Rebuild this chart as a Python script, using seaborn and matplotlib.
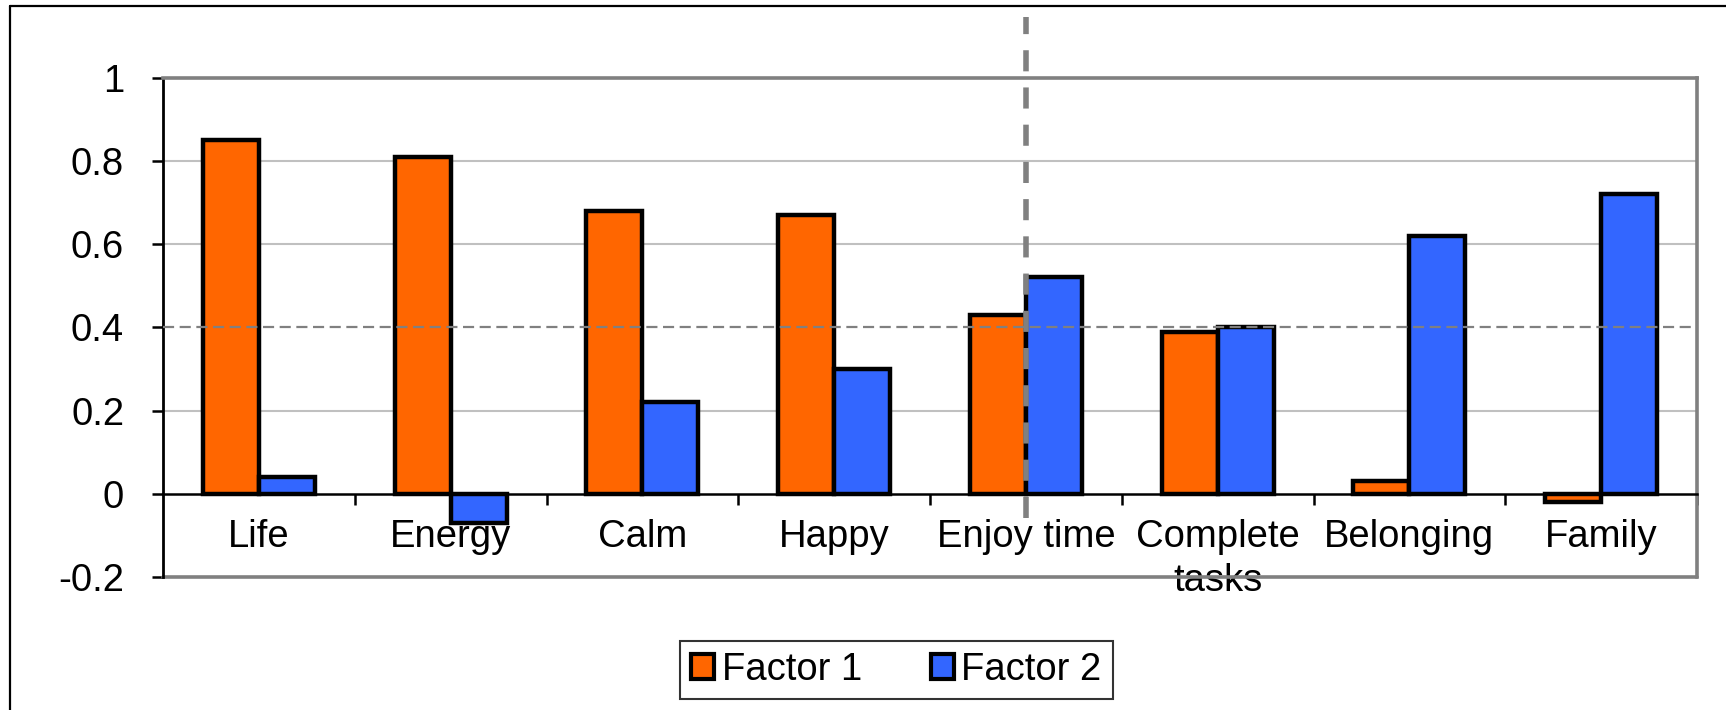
import matplotlib
matplotlib.use("Agg")
import matplotlib.pyplot as plt
import seaborn as sns
import pandas as pd
from matplotlib.lines import Line2D
from matplotlib.ticker import FixedLocator, FixedFormatter

categories = ["Life", "Energy", "Calm", "Happy", "Enjoy time", "Complete\ntasks", "Belonging", "Family"]
factor1 = [0.85, 0.81, 0.68, 0.67, 0.43, 0.39, 0.03, -0.02]
factor2 = [0.04, -0.07, 0.22, 0.30, 0.52, 0.40, 0.62, 0.72]
series_names = ["Factor 1", "Factor 2"]
ytick_values = [-0.2, 0, 0.2, 0.4, 0.6, 0.8, 1]
ytick_labels = ["-0.2", "0", "0.2", "0.4", "0.6", "0.8", "1"]
grid_values = [0.2, 0.6, 0.8]
threshold = 0.4
divider_index = 4

df = pd.DataFrame({
    "category": categories * 2,
    "value": factor1 + factor2,
    "series": [series_names[0]] * len(categories) + [series_names[1]] * len(categories),
})

sns.set_theme(style="white")
plt.rcParams["font.family"] = ["Liberation Sans", "DejaVu Sans"]
plt.rcParams["text.color"] = "black"
plt.rcParams["xtick.color"] = "black"
plt.rcParams["ytick.color"] = "black"
plt.rcParams["xtick.labelcolor"] = "black"
plt.rcParams["ytick.labelcolor"] = "black"

FS = 27.5
W, H = 1726, 710
fig = plt.figure(figsize=(W / 100, H / 100), dpi=100)
ax = fig.add_axes([163 / W, 1 - 577 / H, (1697 - 163) / W, (577 - 77.7) / H])

sns.barplot(data=df, x="category", y="value", hue="series", order=categories,
            hue_order=series_names, palette=["#FF6600", "#3366FF"], saturation=1,
            width=0.585, errorbar=None, edgecolor="black", linewidth=3.2, ax=ax,
            zorder=3, legend=True)
for p in ax.patches:
    p.set_linewidth(3.2)
    p.set_edgecolor("black")
    p.set_joinstyle("miter")

ax.set_ylim(-0.2, 1.0)
ax.set_xlim(-0.5, len(categories) - 0.5)
ax.set_xlabel("")
ax.set_ylabel("")

# gridlines
for g in grid_values:
    ax.axhline(g, color="#C0C0C0", lw=1.5, zorder=1)
# threshold dashed line
ax.axhline(threshold, color="#808080", lw=1.6, ls=(0, (5, 2.5)), zorder=5)

# spines
for s in ["top", "right"]:
    ax.spines[s].set_color("#808080")
    ax.spines[s].set_linewidth(2.6)
ax.spines["left"].set_color("black")
ax.spines["left"].set_linewidth(2)
ax.spines["bottom"].set_position(("data", 0))
ax.spines["bottom"].set_color("black")
ax.spines["bottom"].set_linewidth(1.8)
ax.spines["bottom"].set_zorder(4)
ax.axhline(-0.2, color="#808080", lw=2.6, zorder=2, clip_on=False)

# y ticks
ax.yaxis.set_major_locator(FixedLocator(ytick_values))
ax.yaxis.set_major_formatter(FixedFormatter(ytick_labels))
ax.tick_params(axis="y", direction="out", length=8, width=1.8, color="black",
               labelcolor="black", pad=20, labelsize=FS, left=True)

# x ticks: labels at centers, tick marks at boundaries
ax.set_xticks(range(len(categories)))
ax.set_xticklabels(categories, fontsize=FS, linespacing=1.3, color="black")
ax.set_xticks([i + 0.5 for i in range(len(categories))], minor=True)
ax.tick_params(axis="x", which="major", length=0, pad=18, labelcolor="black")
ax.tick_params(axis="x", which="minor", direction="out", length=8, width=1.8,
               color="black", bottom=True)

# vertical dashed divider
ax.plot([divider_index, divider_index], [-0.058, 1.147], color="#808080", lw=4,
        ls=(0, (3.8, 2.9)), zorder=6, clip_on=False, solid_capstyle="butt",
        dash_capstyle="butt")

# legend
handles, labels = ax.get_legend_handles_labels()
if ax.get_legend() is not None:
    ax.get_legend().remove()
leg = fig.legend(handles, labels, loc="center", bbox_to_anchor=(896.5 / W, 1 - 670 / H),
                 ncol=2, fontsize=FS, frameon=True, fancybox=False, handlelength=0.6,
                 handleheight=0.6, handletextpad=0.2, columnspacing=1.8,
                 borderpad=0.3, borderaxespad=0)
leg.get_frame().set_edgecolor("black")
leg.get_frame().set_linewidth(1.5)
leg.get_frame().set_facecolor("white")
for t in leg.get_texts():
    t.set_color("black")
for p in leg.get_patches():
    p.set_edgecolor("black")
    p.set_linewidth(3.0)

# outer chart border (top and left)
fig.add_artist(Line2D([10 / W, 1.0], [1 - 6 / H, 1 - 6 / H], color="black", lw=1.6,
                      transform=fig.transFigure))
fig.add_artist(Line2D([10 / W, 10 / W], [0, 1 - 6 / H], color="black", lw=1.6,
                      transform=fig.transFigure))

fig.savefig("out.png", dpi=100, facecolor="white")
